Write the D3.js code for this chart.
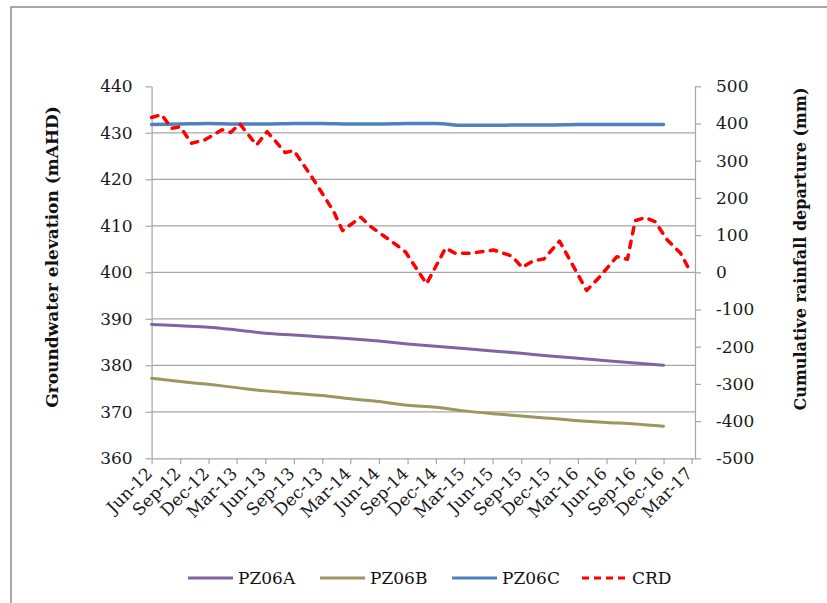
<!DOCTYPE html>
<html>
<head>
<meta charset="utf-8">
<script src="https://cdn.jsdelivr.net/npm/d3@7"></script>
<style>
  html, body { margin: 0; padding: 0; background: #fff; }
  svg { display: block; }
</style>
</head>
<body>
<svg id="chart" width="827" height="603"></svg>
<script>
// ---------------- DATA ----------------
const tickLabels = ["Jun-12","Sep-12","Dec-12","Mar-13","Jun-13","Sep-13","Dec-13","Mar-14","Jun-14","Sep-14",
                    "Dec-14","Mar-15","Jun-15","Sep-15","Dec-15","Mar-16","Jun-16","Sep-16","Dec-16","Mar-17"];

// quarterly piezometer readings (Jun-12 .. Dec-16)
const pzDates = ["Jun-12","Sep-12","Dec-12","Mar-13","Jun-13","Sep-13","Dec-13","Mar-14","Jun-14","Sep-14",
                 "Dec-14","Mar-15","Jun-15","Sep-15","Dec-15","Mar-16","Jun-16","Sep-16","Dec-16"];
const pz06A = [388.8,388.5,388.2,387.6,386.9,386.5,386.1,385.7,385.2,384.6,384.1,383.6,383.1,382.6,382.0,381.5,381.0,380.5,380.0];
const pz06B = [377.2,376.5,375.9,375.2,374.5,374.0,373.5,372.8,372.2,371.4,371.0,370.2,369.6,369.1,368.6,368.1,367.7,367.4,366.9];
const pz06C = [431.8,431.9,432.0,431.9,431.9,432.0,432.0,431.9,431.9,432.0,432.0,431.6,431.6,431.7,431.7,431.8,431.8,431.8,431.8];

// cumulative rainfall departure (mm)
const crdDates = ["2012-06-01","2012-07-03","2012-08-04","2012-09-01","2012-10-07","2012-11-19","2013-01-13","2013-02-10",
                  "2013-03-11","2013-05-04","2013-06-07","2013-08-04","2013-09-01","2013-10-28","2014-01-07","2014-02-04",
                  "2014-04-04","2014-05-04","2014-07-28","2014-08-25","2014-11-01","2015-01-01","2015-02-01","2015-03-20",
                  "2015-06-04","2015-08-01","2015-09-04","2015-10-10","2015-11-13","2016-01-02","2016-03-29","2016-05-10",
                  "2016-07-04","2016-08-07","2016-09-01","2016-10-04","2016-11-04","2016-12-13","2017-01-25","2017-02-26"];
const crdValues = [416,424,387,391,347,356,383,376,
                   399,342,378,322,327,257,163,112,
                   148,124,73,55,-31,65,51,51,
                   60,44,13,31,36,84,-49,-12,
                   42,35,139,147,136,87,51,0];

const seriesNames = ["PZ06A","PZ06B","PZ06C","CRD"];
const seriesColors = ["#8064A2","#9C9660","#4F81BD","#FF0000"];

const leftTicks = [360,370,380,390,400,410,420,430,440];
const rightTicks = [-500,-400,-300,-200,-100,0,100,200,300,400,500];

// ---------------- LAYOUT ----------------
const svg = d3.select("#chart");
const FONT = "'DejaVu Serif', serif";
const plot = { left: 151.6, right: 695, top: 86.3, bottom: 458.3 };

const parseTick = d3.timeParse("%b-%y");
const parseISO = d3.timeParse("%Y-%m-%d");

const x = d3.scaleTime()
  .domain([new Date(2012,5,1), new Date(2017,2,12)])
  .range([plot.left, plot.right]);
const yL = d3.scaleLinear().domain([360,440]).range([plot.bottom, plot.top]);
const yR = d3.scaleLinear().domain([-500,500]).range([plot.bottom, plot.top]);

// frame
svg.append("path")
  .attr("d", `M11,603 L11,7 L827,7`)
  .attr("fill","none").attr("stroke","#8c8c8c").attr("stroke-width",1.5);

// gridlines
svg.append("g").selectAll("line")
  .data(leftTicks.filter(d => d > 360 && d < 440))
  .join("line")
  .attr("x1", plot.left).attr("x2", plot.right)
  .attr("y1", d => yL(d)).attr("y2", d => yL(d))
  .attr("stroke", "#a6a6a6").attr("stroke-width", 1.2);

// axes
const axisColor = "#a6a6a6";
function styleAxis(g) {
  g.selectAll(".domain").attr("stroke", axisColor).attr("stroke-width", 1.2);
  g.selectAll(".tick line").attr("stroke", axisColor).attr("stroke-width", 1.2);
  g.selectAll(".tick text").attr("fill", "#1a1a1a").style("font-family", FONT).style("font-size", "17px");
}
const plainNum = d => String(d);

const gL = svg.append("g").attr("transform", `translate(${plot.left},0)`)
  .call(d3.axisLeft(yL).tickValues(leftTicks).tickFormat(plainNum).tickSize(6).tickPadding(13).tickSizeOuter(0));
styleAxis(gL);

const gR = svg.append("g").attr("transform", `translate(${plot.right},0)`)
  .call(d3.axisRight(yR).tickValues(rightTicks).tickFormat(plainNum).tickSize(6).tickPadding(15).tickSizeOuter(0));
styleAxis(gR);

const gX = svg.append("g").attr("transform", `translate(0,${plot.bottom})`)
  .call(d3.axisBottom(x).tickValues(tickLabels.map(parseTick)).tickFormat(d3.timeFormat("%b-%y"))
        .tickSize(6).tickSizeOuter(0));
styleAxis(gX);
gX.selectAll(".tick text")
  .attr("text-anchor", "end")
  .attr("transform", "translate(-3,12) rotate(-45)")
  .attr("dy", "0.35em").attr("y", 0).attr("x", 0);

// axis titles
svg.append("text")
  .attr("transform", `translate(52,257) rotate(-90)`)
  .attr("text-anchor", "middle").attr("dominant-baseline", "central")
  .style("font-family", FONT).style("font-weight", "bold").style("font-size", "17px")
  .attr("fill", "#111")
  .text("Groundwater elevation (mAHD)");
svg.append("text")
  .attr("transform", `translate(800,249) rotate(-90)`)
  .attr("text-anchor", "middle").attr("dominant-baseline", "central")
  .style("font-family", FONT).style("font-weight", "bold").style("font-size", "16px")
  .attr("fill", "#111")
  .text("Cumulative rainfall departure (mm)");

// lines
const lineL = d3.line().x(d => x(d.date)).y(d => yL(d.v)).curve(d3.curveMonotoneX);
const lineR = d3.line().x(d => x(d.date)).y(d => yR(d.v));

const pzSeries = [pz06A, pz06B, pz06C];
pzSeries.forEach((vals, i) => {
  const data = vals.map((v, j) => ({ date: parseTick(pzDates[j]), v }));
  svg.append("path").datum(data)
    .attr("d", lineL)
    .attr("fill", "none")
    .attr("stroke", seriesColors[i])
    .attr("stroke-width", i === 2 ? 3.5 : 3)
    .attr("stroke-linejoin", "round").attr("stroke-linecap", "round");
});

const crd = crdValues.map((v, j) => ({ date: parseISO(crdDates[j]), v }));
svg.append("path").datum(crd)
  .attr("d", lineR)
  .attr("fill", "none")
  .attr("stroke", seriesColors[3])
  .attr("stroke-width", 3.5)
  .attr("stroke-dasharray", "6.5,7.5")
  .attr("stroke-linecap", "round").attr("stroke-linejoin", "round");

// legend
const legendX = [188, 320, 452, 582];
const legendY = 578;
const lg = svg.append("g");
seriesNames.forEach((name, i) => {
  const item = lg.append("g");
  item.append("line")
    .attr("x1", legendX[i]).attr("x2", legendX[i] + 45)
    .attr("y1", legendY).attr("y2", legendY)
    .attr("stroke", seriesColors[i])
    .attr("stroke-width", 3)
    .attr("stroke-dasharray", i === 3 ? "7,5" : null);
  item.append("text")
    .attr("x", legendX[i] + 50).attr("y", legendY)
    .attr("dominant-baseline", "central")
    .style("font-family", FONT).style("font-size", "17px")
    .attr("fill", "#111")
    .text(name);
});
</script>
</body>
</html>
